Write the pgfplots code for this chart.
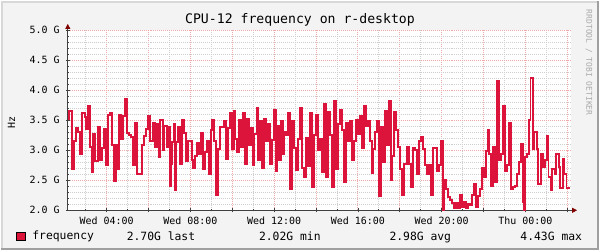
\documentclass[border=0pt]{standalone}
\usepackage{fontspec}
\setmainfont{DejaVu Sans Mono}
\usepackage{pgfplots}
\pgfplotsset{compat=1.18}
\usetikzlibrary{arrows.meta}
\definecolor{bgcol}{HTML}{F3F3F3}
\definecolor{shadea}{HTML}{D8D8D8}
\definecolor{shadeb}{HTML}{A0A0A0}
\definecolor{gridcol}{HTML}{CFCFCF}
\definecolor{mgridcol}{HTML}{F0A8A8}
\definecolor{axiscol}{HTML}{404040}
\definecolor{arrowcol}{HTML}{800000}
\definecolor{linecol}{HTML}{DC143C}
\definecolor{rrdcol}{HTML}{AAAAAA}

\pgfplotstableread{
h v
2.13 3.52
2.21 3.65
2.33 2.69
2.43 3.16
2.52 3.37
2.62 3.30
2.71 2.93
2.81 3.61
2.94 3.55
3.03 3.35
3.10 3.74
3.22 3.05
3.29 2.63
3.35 3.27
3.45 2.82
3.57 3.39
3.70 2.83
3.79 3.04
3.89 3.35
3.95 2.75
4.05 3.59
4.18 3.61
4.27 3.09
4.33 2.49
4.43 3.08
4.52 2.69
4.59 3.59
4.68 3.19
4.78 3.57
4.87 3.85
4.97 3.28
5.06 3.26
5.16 3.22
5.25 2.75
5.35 3.46
5.44 2.60
5.67 3.09
5.76 3.24
5.86 3.35
5.95 3.57
6.05 3.16
6.19 3.46
6.29 3.05
6.38 3.44
6.48 2.89
6.57 3.50
6.67 3.00
6.76 3.41
6.86 3.06
6.95 3.39
7.02 2.40
7.08 2.77
7.14 3.13
7.21 3.44
7.27 2.33
7.33 3.13
7.43 3.39
7.52 2.77
7.62 3.50
7.71 3.28
7.81 2.82
7.87 3.16
8.06 2.83
8.13 2.71
8.22 2.91
8.32 3.12
8.41 2.94
8.51 3.28
8.60 2.69
8.70 2.97
8.79 3.16
8.89 2.61
8.98 3.33
9.05 3.50
9.14 3.16
9.21 2.25
9.30 3.02
9.40 3.39
9.59 3.48
9.68 2.86
9.78 3.37
9.87 3.61
9.97 3.02
10.06 3.65
10.14 3.19
10.24 2.97
10.33 3.50
10.43 3.06
10.52 3.61
10.62 2.77
10.71 3.52
10.81 3.08
10.90 3.37
11.00 2.75
11.06 3.27
11.16 3.70
11.25 2.84
11.32 3.49
11.41 2.71
11.51 3.52
11.60 3.16
11.70 3.44
11.79 2.77
11.89 3.17
11.98 3.66
12.08 2.66
12.14 3.41
12.24 2.83
12.33 3.49
12.43 2.93
12.49 3.31
12.59 3.26
12.68 3.61
12.78 2.36
12.87 3.48
12.97 3.04
13.06 2.67
13.16 3.19
13.25 3.70
13.35 2.71
13.44 2.56
13.54 3.20
13.63 2.73
13.73 3.61
13.83 2.38
13.92 3.26
14.02 3.59
14.11 3.00
14.19 3.19
14.29 2.63
14.38 3.77
14.48 2.55
14.57 3.63
14.67 3.26
14.76 2.39
14.86 3.81
14.95 2.69
15.05 3.44
15.14 3.67
15.24 3.33
15.33 2.47
15.43 3.45
15.52 3.16
15.62 3.48
15.71 2.83
15.81 3.16
15.90 3.50
16.00 3.27
16.09 3.56
16.19 3.04
16.29 3.74
16.38 3.41
16.48 3.48
16.57 3.16
16.67 2.62
16.73 3.02
16.83 3.31
16.92 3.48
17.02 2.23
17.11 3.39
17.21 2.80
17.30 3.65
17.40 3.08
17.49 3.82
17.59 2.51
17.65 2.91
17.75 3.63
17.84 3.34
17.94 3.05
18.03 2.69
18.13 2.25
18.22 2.77
18.33 3.06
18.43 2.77
18.52 2.39
18.62 3.04
18.71 3.00
18.81 2.60
18.90 3.16
19.00 3.22
19.10 3.02
19.19 2.76
19.29 2.60
19.38 2.75
19.48 2.25
19.57 3.04
19.76 2.66
19.86 2.75
19.95 3.16
20.05 2.01
20.11 2.50
20.21 2.36
20.30 2.22
20.40 2.17
20.49 2.12
20.59 2.04
20.68 2.12
20.78 2.03
20.87 2.25
20.97 2.05
21.06 2.14
21.16 2.04
21.25 2.10
21.35 2.08
21.44 2.25
21.54 2.43
21.63 2.05
21.73 2.23
21.83 2.36
21.92 2.71
22.05 2.55
22.14 2.99
22.21 3.33
22.27 2.94
22.38 2.41
22.48 3.05
22.57 2.47
22.67 4.15
22.73 2.83
22.83 2.94
22.92 3.74
23.02 2.66
23.11 2.75
23.21 3.46
23.30 2.36
23.40 2.39
23.52 2.41
23.62 2.61
23.71 2.80
23.81 3.10
23.87 2.14
23.94 2.01
24.00 2.89
24.10 2.94
24.19 3.50
24.25 4.20
24.35 3.02
24.44 3.30
24.54 3.02
24.63 2.44
24.73 2.93
24.83 2.72
24.92 2.84
25.02 3.24
25.11 2.55
25.21 2.34
25.30 2.69
25.40 2.61
25.49 2.94
25.59 2.72
25.68 2.37
25.78 2.86
25.87 2.61
25.97 2.37
26.16 2.37
}\freqdata

\begin{document}
\begin{tikzpicture}[x=1pt,y=1pt]
\fill[bgcol] (0,0) rectangle (600,250);
\draw[shadea, line width=2pt] (1,0) -- (1,249) -- (600,249);
\draw[shadeb, line width=2pt] (0,1) -- (599,1) -- (599,250);
\begin{axis}[
  at={(67pt,40pt)}, anchor=south west,
  scale only axis, width=505pt, height=181pt,
  xmin=2.14, xmax=26.19, ymin=2, ymax=5,
  axis background/.style={fill=white},
  axis lines*=left,
  axis line style={axiscol, line width=0.8pt},
  x axis line style={-{Triangle[length=5pt,width=5pt,color=arrowcol]}, shorten >=-6pt},
  y axis line style={-{Triangle[length=5pt,width=5pt,color=arrowcol]}, shorten >=-6pt},
  xtick={4,6,...,26},
  xticklabels={Wed 04:00,,Wed 08:00,,Wed 12:00,,Wed 16:00,,Wed 20:00,,Thu 00:00,},
  minor xtick={3,5,...,25},
  ytick={2,2.5,3,3.5,4,4.5,5},
  yticklabels={2.0 G,2.5 G,3.0 G,3.5 G,4.0 G,4.5 G,5.0 G},
  minor y tick num=4,
  grid=both,
  major grid style={mgridcol, dash pattern=on 1pt off 1pt, line width=0.8pt},
  minor grid style={gridcol, dash pattern=on 1pt off 1pt, line width=0.8pt},
  tick align=center, major tick length=4pt, minor tick length=2pt,
  tick style={axiscol, line width=0.6pt},
  ticklabel style={font=\fontsize{10}{12}\selectfont, inner sep=0pt},
  yticklabel style={xshift=-6pt},
  xticklabel style={yshift=-4pt},
  legend style={at={(axis description cs:-0.1024,-0.1436)}, anchor=west,
    draw=none, fill=none, inner sep=0pt, outer sep=0pt,
    nodes={inner sep=0pt},
    font=\fontsize{11.4}{13}\selectfont,
    /tikz/every odd column/.append style={column sep=7pt}},
  legend image code/.code={\draw[fill=linecol, draw=black, line width=0.8pt] (0pt,-4.2pt) rectangle (8.4pt,4.2pt);},
]
\addplot[const plot, linecol, line width=2pt] table[x=h, y=v] {\freqdata};
\addlegendentry{frequency}
\end{axis}
\node[anchor=base, font=\fontsize{13.2}{15}\selectfont] at (300,227) {CPU-12 frequency on r-desktop};
\node[rotate=90, font=\fontsize{10}{12}\selectfont] at (10.5,128) {Hz};
\node[rotate=-90, text=rrdcol, font=\fontsize{8}{10}\selectfont] at (590,188) {RRDTOOL / TOBI OETIKER};
\begin{scope}[every node/.style={anchor=base west, inner sep=0pt, font=\fontsize{11.4}{13}\selectfont}]
\node at (126,10) {2.70G last};
\node at (258.7,10) {2.02G min};
\node at (389.6,10) {2.98G avg};
\node at (521,10) {4.43G max};
\end{scope}
\end{tikzpicture}
\end{document}
